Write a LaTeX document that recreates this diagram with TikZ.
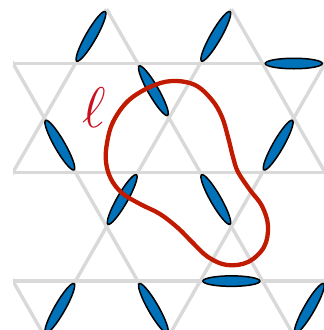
\documentclass[tikz,border=0pt]{standalone}
\usepackage{graphicx}
\usetikzlibrary{shapes.geometric}
\definecolor{latgray}{RGB}{217,217,217}
\definecolor{dimerblue}{RGB}{0,114,185}
\definecolor{loopred}{RGB}{192,26,0}
\definecolor{labelred}{RGB}{200,16,32}
\tikzset{
  latline/.style={draw=latgray, line width=3.4pt},
  dimer/.style={shape=ellipse, draw=black, line width=1.5pt, fill=dimerblue,
    minimum width=57pt, minimum height=10.5pt, inner sep=0pt},
  loopline/.style={draw=loopred, line width=4.3pt},
}
\begin{document}
\begin{tikzpicture}[x=1pt, y=-1pt]
\useasboundingbox (0,0) rectangle (324,330);
\clip (0,0) rectangle (324,330);
\begin{scope}[shift={(13,9.1)}, x=31.2pt, y=-54.4pt]
  \begin{scope}
    \clip (0,-0.3) rectangle (12,8);
    \foreach \j in {1,3,5} \draw[latline] (0,\j) -- (11,\j);
    \foreach \c in {-1,3,7,11,15,19} \draw[latline] (\c,0) -- ({\c-7},7);
    \foreach \c in {-5,-1,3,7,11} \draw[latline] (\c,0) -- ({\c+7},7);
  \end{scope}
  % dimers
  \node[dimer, rotate=60.2]  (d1)  at (2.5,0.5) {};
  \node[dimer, rotate=-60.2] (d2)  at (4.5,1.5) {};
  \node[dimer, rotate=60.2]  (d3)  at (6.5,0.5) {};
  \node[dimer]               (d4)  at (9,1) {};
  \node[dimer, rotate=-60.2] (d5)  at (1.5,2.5) {};
  \node[dimer, rotate=60.2]  (d6)  at (8.5,2.5) {};
  \node[dimer, rotate=60.2]  (d7)  at (3.5,3.5) {};
  \node[dimer, rotate=-60.2] (d8)  at (6.5,3.5) {};
  \node[dimer]               (d9)  at (7,5) {};
  \node[dimer, rotate=60.2]  (d10) at (1.5,5.5) {};
  \node[dimer, rotate=-60.2] (d11) at (4.5,5.5) {};
  \node[dimer, rotate=60.2]  (d12) at (9.5,5.5) {};
\end{scope}
% loop
\draw[loopline] plot[smooth cycle, tension=0.6] coordinates {
  (172,81) (195,85) (212,100) (222,117) (228,137) (233,157) (238,172)
  (250,190) (262,206) (268,226) (264,247) (248,262) (227,265) (208,257)
  (192,242) (178,228) (160,214) (140,204) (122,193) (111,179) (106,162)
  (107,143) (113,122) (128,101) (150,87)};
\node[text=labelred, inner sep=0pt] (lab) at (94,108)
  {\scalebox{2.3}{\fontsize{24.88}{30}\selectfont$\ell$}};
\end{tikzpicture}
\end{document}
